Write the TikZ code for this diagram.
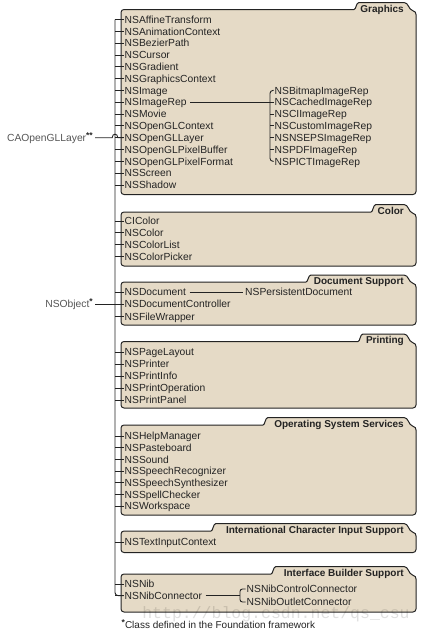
\documentclass[tikz,border=0pt]{standalone}
\usepackage{fontspec}
\setmainfont{Liberation Sans}
\newfontfamily\wmfont{Liberation Mono}
\definecolor{boxfill}{RGB}{229,218,198}
\definecolor{ink}{RGB}{35,35,35}
\definecolor{leftink}{RGB}{85,85,85}
\newcommand\tanpanel[4]{% top, bottom, tab start x, tab top
  \path[panel] (121,#2-3) -- (121,#1+3) .. controls (121,#1+1.3) and (122.3,#1) .. (124,#1)
    -- (#3,#1) .. controls (#3+2.2,#1) and (#3+2,#4) .. (#3+5,#4) -- (404,#4)
    .. controls (408.5,#4) and (408.5,#1) .. (412.5,#1+1) .. controls (415.3,#1+2) and (416,#1+3) .. (416,#1+5)
    -- (416,#2-3) .. controls (416,#2-1.3) and (414.7,#2) .. (413,#2)
    -- (124,#2) .. controls (122.3,#2) and (121,#2-1.3) .. (121,#2-3) -- cycle;}
\newcommand\starmark[1]{\raisebox{3.2pt}{\fontsize{8.5}{9}\selectfont\bfseries\textcolor{ink}{#1}}}
\begin{document}
\begin{tikzpicture}[x=1pt,y=-1pt,
  item/.style={anchor=west, inner sep=0pt, text height=7.4pt, text depth=0pt,
    font=\fontsize{10.3}{12}\selectfont, text=ink},
  leftlbl/.style={anchor=east, inner sep=0pt, text height=7.4pt, text depth=0pt,
    font=\fontsize{10.3}{12}\selectfont, text=leftink},
  ttl/.style={anchor=east, inner sep=0pt, text height=7.3pt, text depth=0pt,
    font=\fontsize{10}{12}\selectfont\bfseries, text=ink},
  wire/.style={draw=ink, line width=0.9pt},
  panel/.style={draw=ink, line width=1pt, fill=boxfill},
]
\useasboundingbox (0,0) rectangle (421,632);
\coordinate (tx) at (115,0);
\coordinate (rx) at (270,0);
\coordinate (nx) at (240,0);

% panels
\tanpanel{9.5}{194.5}{354}{2.5}
\tanpanel{212}{266}{371}{204.5}
\tanpanel{282}{325}{306}{275}
\tanpanel{341.5}{408}{358}{334}
\tanpanel{425}{515}{263}{417.5}
\tanpanel{531}{552.5}{211}{523.5}
\tanpanel{574}{612}{271}{566.5}

% titles
\node[ttl] (tG) at (404,8.8) {Graphics};
\node[ttl] (tC) at (404,210.8) {Color};
\node[ttl] (tD) at (404,281.3) {Document Support};
\node[ttl] (tP) at (404,340.3) {Printing};
\node[ttl] (tO) at (404,423.8) {Operating System Services};
\node[ttl] (tI) at (404,529.8) {International Character Input Support};
\node[ttl] (tB) at (404,572.8) {Interface Builder Support};

% items hanging from the trunk
\foreach \n/\t/\y in {
  gA/NSAffineTransform/19.5, gB/NSAnimationContext/31.3, gC/NSBezierPath/43.1,
  gD/NSCursor/55, gE/NSGradient/66.8, gF/NSGraphicsContext/78.6,
  gG/NSImage/90.4, gH/NSImageRep/102.2, gI/NSMovie/114,
  gJ/NSOpenGLContext/125.9, gK/NSOpenGLLayer/137.7, gL/NSOpenGLPixelBuffer/149.5,
  gM/NSOpenGLPixelFormat/161.3, gN/NSScreen/173.2, gO/NSShadow/185,
  cA/CIColor/221, cB/NSColor/232.8, cC/NSColorList/244.6, cD/NSColorPicker/256.4,
  dA/NSDocument/292.2, dB/NSDocumentController/304.2, dC/NSFileWrapper/316.3,
  pA/NSPageLayout/352.2, pB/NSPrinter/364.1, pC/NSPrintInfo/376, pD/NSPrintOperation/388, pE/NSPrintPanel/400,
  oA/NSHelpManager/436, oB/NSPasteboard/447.7, oC/NSSound/459.4, oD/NSSpeechRecognizer/471.1,
  oE/NSSpeechSynthesizer/482.8, oF/NSSpellChecker/494.5, oG/NSWorkspace/506.2,
  iA/NSTextInputContext/542.2,
  bA/NSNib/584, bB/NSNibConnector/595.6} {
  \node[item] (\n) at (124.5,\y) {\t};
  \draw[wire] (tx |- \n.west) -- ([xshift=-0.8pt]\n.west);
}

% trunk
\coordinate (trunkTop) at (115,19.5);
\draw[wire, rounded corners=3pt] (trunkTop) -- (tx |- bB.west) -- ([xshift=-0.8pt]bB.west);

% image rep subclasses
\foreach \n/\t/\y in {rA/NSBitmapImageRep/90.4, rB/NSCachedImageRep/102.2, rC/NSCIImageRep/114,
  rD/NSCustomImageRep/125.9, rE/NSNSEPSImageRep/137.7, rF/NSPDFImageRep/149.5, rG/NSPICTImageRep/161.3} {
  \node[item] (\n) at (274.5,\y) {\t};
}
\draw[wire] ([xshift=3.5pt]gH.east) -- (rx |- gH.west);
\draw[wire, rounded corners=3pt] ([xshift=-0.8pt]rA.west) -- (rx |- rA.west) -- (rx |- rG.west) -- ([xshift=-0.8pt]rG.west);
\foreach \n in {rB,rC,rD,rE,rF} { \draw[wire] (rx |- \n.west) -- ([xshift=-0.8pt]\n.west); }

% document subclass
\node[item] (dP) at (245,292.2) {NSPersistentDocument};
\draw[wire] ([xshift=3.5pt]dA.east) -- ([xshift=-2.5pt]dP.west);

% nib connector subclasses
\node[item] (nA) at (246.5,589) {NSNibControlConnector};
\node[item] (nB) at (246.5,602) {NSNibOutletConnector};
\draw[wire] ([xshift=3.5pt]bB.east) -- (nx |- bB.west);
\draw[wire, rounded corners=2.5pt] ([xshift=-0.8pt]nA.west) -- (nx |- nA.west) -- (nx |- nB.west) -- ([xshift=-0.8pt]nB.west);

% left roots
\node[leftlbl] (ca) at (93,137.7) {CAOpenGLLayer\starmark{**}};
\draw[wire] ([xshift=2pt]ca.east) -- (112.2,137.7) .. controls (112.2,133) and (117.8,133) .. (117.8,137.7) -- ([xshift=-0.8pt]gK.west);
\node[leftlbl] (nso) at (93,304.2) {NSObject\starmark{*}};
\draw[wire] ([xshift=2pt]nso.east) -- (tx |- nso.east);

% footnote
\node[item, font=\fontsize{10}{12}\selectfont] (fn) at (121.5,625) {\starmark{*}Class defined in the Foundation framework};

% watermark
\node[inner sep=0pt, font=\wmfont\fontsize{16.5}{18}\selectfont, text=black, opacity=0.12] (wm) at (276,614) {http://blog.csdn.net/qs\_csu};
\end{tikzpicture}
\end{document}
